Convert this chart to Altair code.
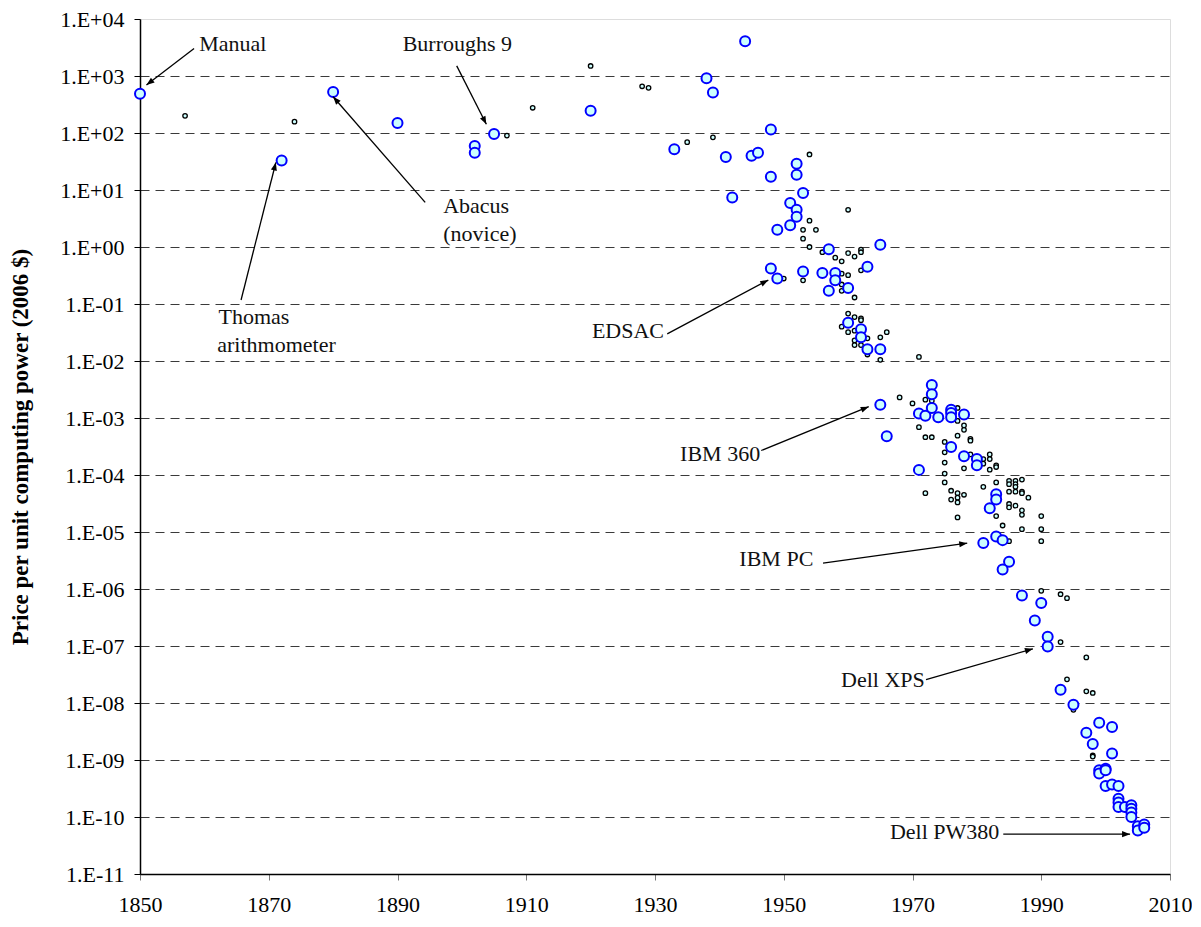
import math
import altair as alt
import pandas as pd

# ---------------- data ----------------
big_year = [1850, 1872, 1880, 1890, 1902, 1902, 1905, 1920, 1938, 1939, 1944, 1933, 1948, 1941,
            1945, 1946, 1952, 1952, 1948, 1953, 1942, 1951, 1952, 1952, 1949, 1951, 1957, 1965,
            1948, 1949, 1953, 1956, 1958, 1958, 1963, 1957, 1960, 1960, 1962, 1962, 1963, 1965,
            1965, 1973, 1973, 1971, 1972, 1973, 1974, 1976, 1976, 1976, 1978, 1966, 1976, 1978,
            1980, 1980, 1971, 1983, 1983, 1982, 1981, 1983, 1984, 1985, 1984, 1987, 1990, 1989,
            1991, 1991, 1993, 1995, 1999, 2001, 1997, 1998, 2001, 1999, 1999, 2000, 2000, 2000,
            2001, 2002, 2002, 2002, 2002, 2003, 2004, 2004, 2004, 2004, 2005, 2006, 2005, 2006]
big_price = [490, 33, 525, 150, 59, 45, 96, 245, 910, 515, 4070, 52, 115, 38,
             40, 45, 29, 18.6, 17, 8.9, 7.4, 5.9, 4.5, 3.4, 2.0, 2.4, 0.91, 1.1,
             0.42, 0.28, 0.37, 0.35, 0.35, 0.26, 0.45, 0.17, 0.19, 0.047, 0.036, 0.026, 0.016, 0.016,
             0.0017, 0.0038, 0.0026, 0.0012, 0.0011, 0.0015, 0.00103, 0.0014, 0.00123, 0.00103, 0.00115, 0.00048, 0.00031, 0.000214,
             0.00019, 0.000148, 0.000123, 4.6e-5, 3.7e-5, 2.6e-5, 6.4e-6, 8.3e-6, 7.2e-6, 3.0e-6, 2.2e-6, 7.7e-7, 5.7e-7, 2.8e-7,
             1.45e-7, 9.8e-8, 1.7e-8, 9.3e-9, 4.5e-9, 3.8e-9, 3.0e-9, 1.9e-9, 1.3e-9, 6.6e-10, 5.8e-10, 7.0e-10, 6.6e-10, 3.5e-10,
             3.7e-10, 3.5e-10, 2.1e-10, 1.8e-10, 1.5e-10, 1.5e-10, 1.6e-10, 1.4e-10, 1.2e-10, 1.0e-10, 6.9e-11, 7.4e-11, 5.8e-11, 6.5e-11]

small_year = [1857, 1874, 1907, 1911, 1920, 1928, 1929, 1935, 1939, 1954, 1960, 1954, 1953, 1955,
              1953, 1954, 1962, 1956, 1960, 1961, 1962, 1958, 1959, 1950, 1953, 1959, 1960, 1962,
              1959, 1959, 1961, 1960, 1961, 1962, 1962, 1959, 1960, 1961, 1963, 1961, 1961, 1962,
              1963, 1965, 1966, 1965, 1971, 1968, 1970, 1972, 1973, 1977, 1977, 1971, 1978, 1978,
              1972, 1973, 1977, 1979, 1979, 1975, 1975, 1975, 1979, 1981, 1981, 1982, 1982, 1983,
              1983, 1982, 1978, 1975, 1975, 1972, 1976, 1976, 1977, 1977, 1977, 1978, 1977, 1981,
              1983, 1985, 1985, 1986, 1986, 1987, 1985, 1986, 1986, 1987, 1987, 1988, 1985, 1985,
              1986, 1987, 1987, 1983, 1990, 1984, 1987, 1990, 1985, 1990, 1990, 1993, 1994, 1993,
              1997, 1994, 1997, 1998, 1995, 1998, 1998]
small_price = [200, 158, 90, 277, 1500, 660, 620, 69, 84, 42, 4.5, 2.9, 2.0, 2.0,
               1.4, 1.0, 0.9, 0.81, 0.78, 0.68, 0.81, 0.65, 0.56, 0.28, 0.26, 0.34, 0.32, 0.39,
               0.22, 0.17, 0.13, 0.068, 0.059, 0.056, 0.052, 0.04, 0.032, 0.034, 0.025, 0.023, 0.019, 0.019,
               0.013, 0.026, 0.032, 0.0105, 0.0118, 0.0023, 0.0018, 0.0021, 0.0020, 0.0015, 0.00089, 0.00069, 0.00074, 0.00062,
               0.00046, 0.00046, 0.00049, 0.00043, 0.0004, 0.00038, 0.00025, 0.000165, 0.00023, 0.00019, 0.000158, 0.00023, 0.00019, 0.000148,
               0.000138, 0.000124, 0.000131, 0.000106, 0.000074, 4.8e-5, 5.3e-5, 3.7e-5, 4.8e-5, 4.0e-5, 3.3e-5, 4.5e-5, 1.8e-5, 6.2e-5,
               7.4e-5, 7.9e-5, 6.9e-5, 7.9e-5, 6.9e-5, 8.3e-5, 5.1e-5, 6.2e-5, 5.1e-5, 5.1e-5, 4.8e-5, 4.0e-5, 3.1e-5, 2.7e-5,
               2.9e-5, 2.4e-5, 2.0e-5, 1.9e-5, 1.9e-5, 1.3e-5, 1.12e-5, 1.12e-5, 6.9e-6, 6.9e-6, 9.3e-7, 8.1e-7, 6.9e-7, 1.17e-7,
               6.3e-8, 2.6e-8, 1.6e-8, 1.5e-8, 7.6e-9, 1.2e-9, 1.15e-9]

# annotation labels (text anchor in data units)
label_text = ["Manual", "Burroughs 9", "Abacus", " (novice)", "Thomas", "arithmometer",
              "EDSAC", "IBM 360", "IBM PC", "Dell XPS", "Dell PW380"]
label_year = [1859.2, 1890.8, 1897.1, 1897.1, 1862.2, 1862.0, 1920.2, 1933.9, 1943.1, 1958.9, 1966.5]
label_price = [2723, 2723, 3.90, 1.26, 0.0453, 0.01466, 0.0258, 1.75e-4, 2.55e-6, 1.91e-8, 4.09e-11]

# arrows: start -> end (head at end)
arrow_x1 = [1858.4, 1899.2, 1894.3, 1865.7, 1931.9, 1946.5, 1956.1, 1972.1, 1984.1]
arrow_y1 = [3030, 1507, 6.07, 0.1175, 0.0299, 2.69e-4, 2.85e-6, 2.56e-8, 5.0e-11]
arrow_x2 = [1851.0, 1903.8, 1880.0, 1871.1, 1947.6, 1963.2, 1978.5, 1988.7, 2003.8]
arrow_y2 = [693, 142, 433, 30.4, 0.263, 1.58e-3, 6.37e-6, 8.93e-8, 5.0e-11]

x_ticks = [1850, 1870, 1890, 1910, 1930, 1950, 1970, 1990, 2010]
y_exponents = list(range(-11, 5))
y_tick_labels = ["1.E-11", "1.E-10", "1.E-09", "1.E-08", "1.E-07", "1.E-06", "1.E-05", "1.E-04",
                 "1.E-03", "1.E-02", "1.E-01", "1.E+00", "1.E+01", "1.E+02", "1.E+03", "1.E+04"]

# ---------------- chart ----------------
W, H = 1030, 855
X_MIN, X_MAX = 1850, 2010
LOG_MIN, LOG_MAX = -11, 4
FONT = "Liberation Serif"

xs = alt.Scale(domain=[X_MIN, X_MAX], nice=False, zero=False)
ys = alt.Scale(type="log", domain=[10.0 ** LOG_MIN, 10.0 ** LOG_MAX], nice=False)

label_expr = "[" + ",".join("'%s'" % s for s in y_tick_labels) + "][round(log(datum.value)/LN10)+11]"

x_axis = alt.Axis(values=x_ticks, title=None, grid=False, labelFont=FONT, labelFontSize=22,
                  labelColor="black", tickColor="#777777", tickSize=6, labelPadding=14,
                  domainColor="black", domainWidth=1.5, format="d", labelFlush=False)
y_axis = alt.Axis(values=[10.0 ** e for e in y_exponents], labelExpr=label_expr,
                  title="Price per unit computing power (2006 $)", titleFont=FONT,
                  titleFontSize=23, titleFontWeight="bold", titleColor="black",
                  titleX=-120, titleY=H / 2, titleAngle=270, titleBaseline="middle",
                  titleAnchor="middle",
                  labelFont=FONT, labelFontSize=22, labelColor="black", labelPadding=10,
                  tickColor="black", tickSize=6, domainColor="black", domainWidth=1.5,
                  grid=True, gridDash=[9, 6], gridColor="#3a3a3a", gridWidth=1,
                  gridOpacity={"condition": {"test": "datum.value > 5000", "value": 0}, "value": 1},
                  labelFlush=False)

big_df = pd.DataFrame({"year": big_year, "price": big_price})
small_df = pd.DataFrame({"year": small_year, "price": small_price})
lab_df = pd.DataFrame({"year": label_year, "price": label_price, "text": label_text})


def to_px(year, price):
    return ((year - X_MIN) / (X_MAX - X_MIN) * W,
            (LOG_MAX - math.log10(price)) / (LOG_MAX - LOG_MIN) * H)


angles = []
for a, b, c, d in zip(arrow_x1, arrow_y1, arrow_x2, arrow_y2):
    p1 = to_px(a, b)
    p2 = to_px(c, d)
    dx, dy = p2[0] - p1[0], p2[1] - p1[1]
    angles.append(math.degrees(math.atan2(dx, -dy)) % 360)

arr_df = pd.DataFrame({"x1": arrow_x1, "y1": arrow_y1, "x2": arrow_x2, "y2": arrow_y2, "angle": angles})

small_layer = alt.Chart(small_df).mark_point(
    shape="circle", filled=True, fill="#CCFFFF", stroke="black", strokeWidth=1.3,
    size=20, opacity=1
).encode(
    x=alt.X("year:Q", scale=xs, axis=x_axis),
    y=alt.Y("price:Q", scale=ys, axis=y_axis),
)

big_layer = alt.Chart(big_df).mark_point(
    shape="circle", filled=True, fill="#CCFFFF", stroke="#0000FF", strokeWidth=2,
    size=100, opacity=1
).encode(
    x=alt.X("year:Q", scale=xs),
    y=alt.Y("price:Q", scale=ys),
)

rules = alt.Chart(arr_df).mark_rule(color="black", strokeWidth=1.3).encode(
    x=alt.X("x1:Q", scale=xs), y=alt.Y("y1:Q", scale=ys),
    x2="x2:Q", y2="y2:Q",
)

heads = alt.Chart(arr_df).mark_point(
    shape="M0,0L0.38,1L-0.38,1Z", filled=True, color="black", size=256, opacity=1,
    strokeWidth=0
).encode(
    x=alt.X("x2:Q", scale=xs), y=alt.Y("y2:Q", scale=ys),
    angle=alt.Angle("angle:Q", scale=None),
)

texts = alt.Chart(lab_df).mark_text(
    font=FONT, fontSize=22, align="left", baseline="alphabetic", color="#111111"
).encode(
    x=alt.X("year:Q", scale=xs), y=alt.Y("price:Q", scale=ys), text="text:N",
)

chart = alt.layer(small_layer, big_layer, rules, heads, texts).properties(
    width=W, height=H,
    autosize=alt.AutoSizeParams(type="none"),
    padding={"left": 132, "top": 11, "right": 22, "bottom": 44},
).configure_view(stroke="#808080", strokeWidth=1).configure(background="white")

chart.save("out.html", embed_options={"renderer": "svg", "actions": False})
